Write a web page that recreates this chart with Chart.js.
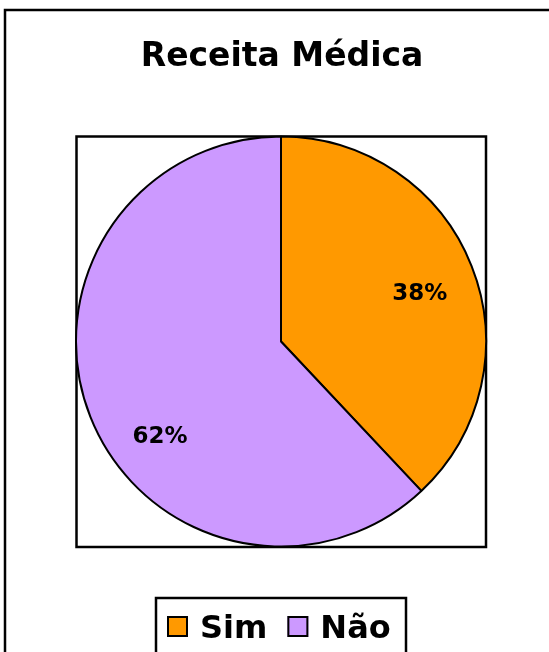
<!DOCTYPE html>
<html>
<head>
<meta charset="utf-8">
<script src="https://cdn.jsdelivr.net/npm/chart.js@4.4.1/dist/chart.umd.min.js"></script>
<style>
  html, body { margin: 0; padding: 0; background: #ffffff; }
  #wrap { width: 549px; height: 652px; position: relative; }
</style>
</head>
<body>
<div id="wrap"><canvas id="receitaChart"></canvas></div>
<script>
const chartTitle = 'Receita Médica';
const categories = ['Sim', 'Não'];
const values = [38, 62];
const sliceColors = ['#FF9900', '#CC99FF'];

const FONT = '"DejaVu Sans", Verdana, sans-serif';

// frames, title, legend and percent labels drawn by hand
const excelLook = {
    id: 'excelLook',
    beforeDraw(chart) {
        const ctx = chart.ctx;
        ctx.save();
        ctx.fillStyle = '#ffffff';
        ctx.fillRect(0, 0, chart.width, chart.height);
        ctx.strokeStyle = '#000000';
        ctx.lineWidth = 2.5;
        // outer frame (continues off the picture)
        ctx.beginPath();
        ctx.moveTo(5, chart.height + 10);
        ctx.lineTo(5, 10);
        ctx.lineTo(chart.width + 10, 10);
        ctx.stroke();
        // plot area
        ctx.strokeRect(76.5, 136.5, 409.5, 410.5);
        // title
        ctx.fillStyle = '#000000';
        ctx.font = 'bold 33px ' + FONT;
        ctx.textAlign = 'center';
        ctx.textBaseline = 'alphabetic';
        ctx.fillText(chartTitle, 282, 66);
        ctx.restore();
    },
    afterDraw(chart) {
        const ctx = chart.ctx;
        const meta = chart.getDatasetMeta(0);
        const labelPos = [{ frac: 0.518, r: 0.717 }, { frac: 0.4265, r: 0.749 }];
        const total = values.reduce((s, v) => s + v, 0);
        ctx.save();
        ctx.fillStyle = '#000000';
        ctx.font = 'bold 23px ' + FONT;
        ctx.textAlign = 'center';
        ctx.textBaseline = 'middle';
        meta.data.forEach((arc, i) => {
            const p = arc.getProps(['x', 'y', 'startAngle', 'endAngle', 'outerRadius'], true);
            const ang = p.startAngle + (p.endAngle - p.startAngle) * labelPos[i].frac;
            const rr = p.outerRadius * labelPos[i].r;
            const pct = Math.round(values[i] / total * 100) + '%';
            ctx.fillText(pct, p.x + Math.cos(ang) * rr, p.y + Math.sin(ang) * rr + 1);
        });

        // legend box
        ctx.lineWidth = 2.5;
        ctx.strokeStyle = '#000000';
        ctx.strokeRect(156, 598, 250, 80);
        ctx.font = 'bold 32px ' + FONT;
        ctx.textAlign = 'left';
        ctx.textBaseline = 'alphabetic';
        let x = 167;
        categories.forEach((c, i) => {
            ctx.fillStyle = sliceColors[i];
            ctx.fillRect(x, 616, 21, 21);
            ctx.lineWidth = 2;
            ctx.strokeRect(x + 1, 617, 19, 19);
            ctx.fillStyle = '#000000';
            ctx.fillText(c, x + 33, 638);
            x += 33 + ctx.measureText(c).width + 20;
        });
        ctx.restore();
    }
};

new Chart(document.getElementById('receitaChart'), {
    type: 'pie',
    data: {
        labels: categories,
        datasets: [{
            data: values,
            backgroundColor: sliceColors,
            borderColor: '#000000',
            borderWidth: 2
        }]
    },
    options: {
        responsive: true,
        maintainAspectRatio: false,
        animation: false,
        layout: { padding: { left: 75, right: 62, top: 135, bottom: 104 } },
        plugins: {
            legend: { display: false },
            tooltip: { enabled: false },
            title: { display: false }
        }
    },
    plugins: [excelLook]
});
</script>
</body>
</html>
